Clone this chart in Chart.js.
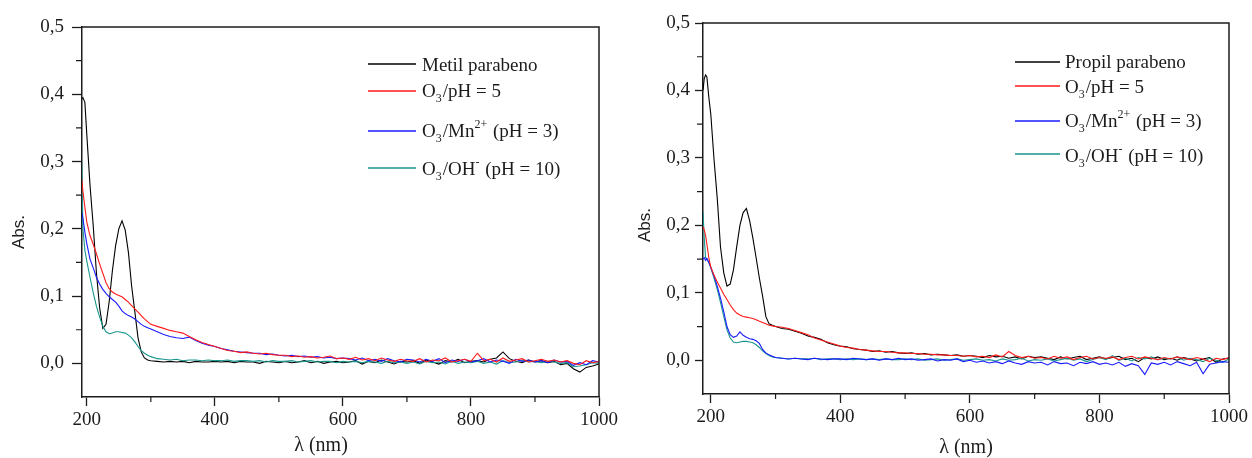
<!DOCTYPE html>
<html>
<head>
<meta charset="utf-8">
<script src="https://cdn.jsdelivr.net/npm/chart.js@4.4.1/dist/chart.umd.min.js"></script>
<style>
    body { margin: 0; background: #fff; }
    .wrap { position: relative; width: 1252px; height: 458px; }
    canvas { position: absolute; top: 0; }
    #metilChart { left: 0; }
    #propilChart { left: 626px; }
</style>
</head>
<body>
<div class="wrap">
    <canvas id="metilChart" width="626" height="458"></canvas>
    <canvas id="propilChart" width="626" height="458"></canvas>
</div>
<script>
// wavelengths (nm)
const wl = [188, 190, 192, 194, 197, 200, 205, 210, 215, 220, 225, 230, 235, 240, 245, 250, 255, 260, 265, 270, 275, 280, 285, 290, 295, 300,
    310, 320, 330, 340, 350, 360, 370, 380, 390, 400,
    410, 420, 430, 440, 450, 460, 470, 480, 490, 500,
    510, 520, 530, 540, 550, 560, 570, 580, 590, 600,
    610, 620, 630, 640, 650, 660, 670, 680, 690, 700,
    710, 720, 730, 740, 750, 760, 770, 780, 790, 800,
    810, 820, 830, 840, 850, 860, 870, 880, 890, 900,
    910, 920, 930, 940, 950, 960, 970, 980, 990, 1000];

const xMajor = [200, 400, 600, 800, 1000];
const xMinor = [300, 500, 700, 900];
const yMajor = [0, 0.1, 0.2, 0.3, 0.4, 0.5];
const yMinor = [0.05, 0.15, 0.25, 0.35, 0.45];

const seriesLabels = ['parabeno', 'O3/pH = 5', 'O3/Mn2+ (pH = 3)', 'O3/OH- (pH = 10)'];
const seriesColors = ['#000000', '#ff1a1a', '#1a1aff', '#16968c'];

// Metil parabeno panel
const metilBase = [0.385, 0.390, 0.393, 0.395, 0.388, 0.340, 0.265, 0.205, 0.135, 0.083, 0.052, 0.058, 0.092, 0.138, 0.175, 0.200, 0.212, 0.198, 0.165, 0.115, 0.077, 0.038, 0.017, 0.008, 0.005, 0.004,
    0.003, 0.002, 0.003, 0.002, 0.003, 0.001, 0.003, 0.002, 0.002, 0.003,
    0.002, 0.003, 0.001, 0.003, 0.002, 0.002, 0.000, 0.003, 0.002, 0.001,
    0.003, 0.001, 0.002, 0.004, 0.001, 0.003, 0.000, 0.002, 0.003, 0.001,
    0.002, 0.004, -0.001, 0.003, 0.001, 0.005, 0.002, -0.001, 0.003, 0.002,
    0.004, 0.000, 0.005, 0.002, -0.001, 0.004, 0.002, 0.006, 0.001, 0.003,
    0.004, 0.002, 0.006, 0.008, 0.017, 0.007, 0.003, 0.001, 0.005, 0.002,
    0.004, 0.001, 0.003, -0.002, 0.000, -0.008, -0.013, -0.006, -0.004, -0.001];
const metilO3 = [0.290, 0.285, 0.275, 0.255, 0.232, 0.210, 0.190, 0.177, 0.163, 0.148, 0.134, 0.120, 0.111, 0.106, 0.103, 0.101, 0.099, 0.095, 0.091, 0.086, 0.081, 0.076, 0.071, 0.066, 0.062, 0.058,
    0.055, 0.052, 0.049, 0.047, 0.045, 0.040, 0.035, 0.031, 0.028, 0.025,
    0.022, 0.019, 0.018, 0.016, 0.017, 0.015, 0.014, 0.015, 0.013, 0.012,
    0.012, 0.010, 0.011, 0.009, 0.010, 0.008, 0.009, 0.011, 0.007, 0.008,
    0.006, 0.009, 0.005, 0.007, 0.004, 0.008, 0.005, 0.003, 0.006, 0.004,
    0.003, 0.007, 0.002, 0.005, 0.004, 0.008, 0.002, 0.004, 0.006, 0.003,
    0.015, 0.004, 0.006, 0.002, 0.008, 0.003, 0.005, 0.007, 0.002, 0.004,
    0.006, 0.003, 0.005, 0.002, 0.004, 0.000, -0.002, 0.004, 0.001, 0.003];
const metilMn = [0.235, 0.230, 0.225, 0.215, 0.195, 0.178, 0.155, 0.142, 0.128, 0.118, 0.110, 0.104, 0.099, 0.095, 0.091, 0.085, 0.078, 0.074, 0.071, 0.069, 0.066, 0.062, 0.058, 0.055, 0.053, 0.051,
    0.047, 0.043, 0.040, 0.038, 0.037, 0.039, 0.034, 0.030, 0.027, 0.025,
    0.022, 0.020, 0.018, 0.017, 0.016, 0.015, 0.015, 0.013, 0.014, 0.012,
    0.011, 0.012, 0.010, 0.011, 0.009, 0.010, 0.008, 0.009, 0.007, 0.008,
    0.007, 0.005, 0.008, 0.004, 0.006, 0.003, 0.007, 0.004, 0.002, 0.006,
    0.005, 0.002, 0.006, 0.003, 0.007, 0.001, 0.005, 0.003, 0.006, 0.002,
    0.004, 0.007, 0.002, 0.005, 0.003, 0.000, 0.006, 0.003, 0.005, 0.002,
    0.004, 0.001, 0.005, 0.002, 0.003, -0.003, 0.001, -0.002, 0.004, 0.002];
const metilOH = [0.330, 0.320, 0.300, 0.200, 0.168, 0.152, 0.128, 0.105, 0.085, 0.069, 0.055, 0.047, 0.044, 0.045, 0.047, 0.047, 0.046, 0.045, 0.042, 0.038, 0.032, 0.025, 0.019, 0.015, 0.012, 0.010,
    0.007, 0.006, 0.005, 0.006, 0.004, 0.005, 0.005, 0.004, 0.005, 0.004,
    0.004, 0.005, 0.003, 0.004, 0.004, 0.003, 0.004, 0.002, 0.004, 0.003,
    0.003, 0.004, 0.002, 0.003, 0.004, 0.002, 0.003, 0.003, 0.001, 0.003,
    0.002, 0.003, 0.001, 0.003, 0.002, 0.000, 0.003, 0.001, 0.002, 0.000,
    0.002, -0.001, 0.003, 0.001, 0.002, -0.001, 0.003, 0.000, 0.002, 0.001,
    0.003, 0.000, 0.002, -0.001, 0.004, 0.001, 0.002, 0.005, 0.002, 0.003,
    0.001, 0.003, 0.002, 0.000, 0.001, -0.005, -0.004, -0.002, 0.001, 0.000];

// Propil parabeno panel
const propilBase = [0.400, 0.418, 0.423, 0.420, 0.390, 0.365, 0.298, 0.240, 0.168, 0.130, 0.110, 0.113, 0.134, 0.168, 0.200, 0.219, 0.225, 0.207, 0.181, 0.152, 0.122, 0.095, 0.065, 0.054, 0.052, 0.050,
    0.047, 0.046, 0.043, 0.040, 0.036, 0.034, 0.031, 0.026, 0.023, 0.021,
    0.020, 0.017, 0.016, 0.015, 0.013, 0.014, 0.012, 0.013, 0.011, 0.010,
    0.011, 0.009, 0.010, 0.008, 0.009, 0.008, 0.007, 0.008, 0.006, 0.007,
    0.006, 0.004, 0.007, 0.005, 0.006, 0.003, 0.005, 0.002, 0.006, 0.004,
    0.005, 0.003, 0.001, 0.005, 0.002, 0.004, 0.006, 0.001, 0.003, 0.005,
    0.002, 0.004, 0.006, 0.001, 0.003, -0.002, 0.004, 0.002, 0.005, 0.001,
    0.003, 0.000, 0.004, 0.002, -0.001, 0.002, 0.004, -0.003, 0.002, 0.003];
const propilO3 = [0.198, 0.193, 0.185, 0.172, 0.152, 0.138, 0.126, 0.116, 0.107, 0.098, 0.090, 0.082, 0.075, 0.070, 0.067, 0.065, 0.064, 0.063, 0.062, 0.060, 0.058, 0.056, 0.054, 0.052, 0.051, 0.050,
    0.049, 0.047, 0.044, 0.041, 0.038, 0.033, 0.030, 0.027, 0.024, 0.021,
    0.019, 0.018, 0.016, 0.015, 0.014, 0.013, 0.013, 0.012, 0.011, 0.011,
    0.010, 0.010, 0.009, 0.009, 0.008, 0.008, 0.007, 0.007, 0.006, 0.007,
    0.005, 0.006, 0.004, 0.008, 0.005, 0.013, 0.007, 0.004, 0.006, 0.003,
    0.004, 0.002, 0.006, 0.003, 0.005, 0.001, 0.004, 0.006, 0.002, 0.004,
    0.003, 0.005, 0.001, 0.004, 0.006, 0.002, 0.005, 0.003, 0.001, 0.004,
    0.002, 0.005, 0.003, 0.001, 0.004, 0.002, -0.002, 0.003, 0.001, 0.004];
const propilMn = [0.150, 0.152, 0.148, 0.151, 0.145, 0.138, 0.125, 0.110, 0.092, 0.072, 0.050, 0.038, 0.034, 0.036, 0.042, 0.037, 0.034, 0.032, 0.031, 0.029, 0.025, 0.016, 0.011, 0.008, 0.006, 0.004,
    0.003, 0.002, 0.003, 0.002, 0.001, 0.003, 0.002, 0.001, 0.002, 0.002,
    0.001, 0.003, 0.002, 0.001, 0.002, 0.000, 0.002, 0.001, 0.003, 0.001,
    0.002, 0.000, 0.001, 0.002, -0.001, 0.001, 0.000, 0.002, -0.002, 0.000,
    -0.003, -0.001, -0.004, -0.002, -0.005, -0.001, -0.004, -0.006, -0.002, -0.004,
    -0.003, -0.007, -0.002, -0.005, -0.004, -0.008, -0.003, -0.005, -0.002, -0.006,
    -0.004, -0.007, -0.003, -0.009, -0.005, -0.008, -0.021, -0.004, -0.006, -0.003,
    -0.007, -0.002, -0.005, -0.008, -0.003, -0.020, -0.006, -0.004, -0.002, -0.003];
const propilOH = [0.220, 0.180, 0.152, 0.150, 0.145, 0.137, 0.122, 0.105, 0.086, 0.065, 0.045, 0.033, 0.027, 0.026, 0.027, 0.028, 0.028, 0.027, 0.026, 0.023, 0.019, 0.014, 0.010, 0.007, 0.005, 0.004,
    0.003, 0.002, 0.003, 0.002, 0.002, 0.003, 0.001, 0.002, 0.002, 0.001,
    0.002, 0.001, 0.002, 0.001, 0.002, 0.001, 0.002, 0.001, 0.001, 0.002,
    0.001, 0.002, 0.000, 0.001, 0.002, 0.000, 0.001, 0.002, 0.000, 0.001,
    0.002, 0.000, 0.001, -0.001, 0.002, 0.000, 0.001, 0.003, -0.001, 0.001,
    0.000, 0.002, -0.001, 0.001, 0.003, 0.000, 0.002, -0.002, 0.001, 0.004,
    0.001, 0.007, 0.000, 0.003, -0.001, 0.004, 0.002, 0.005, 0.001, 0.003,
    0.002, 0.005, 0.000, 0.003, 0.001, -0.002, 0.003, 0.000, -0.003, 0.002];

const ink = '#1c1c1c';
const serif = '"Liberation Serif", "Times New Roman", serif';

// legend rows: [text, 'sub' | 'sup' | undefined]
function legendRows(first) {
    return [
        [[first]],
        [['O'], ['3', 'sub'], ['/pH = 5']],
        [['O'], ['3', 'sub'], ['/Mn'], ['2+', 'sup'], [' (pH = 3)']],
        [['O'], ['3', 'sub'], ['/OH'], ['-', 'sup'], [' (pH = 10)']]
    ];
}

const decorPlugin = {
    id: 'decor',
    afterDraw(chart, args, opts) {
        const ctx = chart.ctx;
        const area = chart.chartArea;
        const xs = chart.scales.x;
        const ys = chart.scales.y;
        ctx.save();

        // top and right frame
        ctx.strokeStyle = ink;
        ctx.lineWidth = 1.5;
        ctx.beginPath();
        ctx.moveTo(area.left, area.top);
        ctx.lineTo(area.right, area.top);
        ctx.lineTo(area.right, area.bottom);
        ctx.stroke();

        // minor ticks
        ctx.lineWidth = 1.2;
        ctx.beginPath();
        xMinor.forEach(v => {
            const px = xs.getPixelForValue(v);
            ctx.moveTo(px, area.bottom);
            ctx.lineTo(px, area.bottom + 5);
        });
        yMinor.forEach(v => {
            const py = ys.getPixelForValue(v);
            ctx.moveTo(area.left, py);
            ctx.lineTo(area.left - 6, py);
        });
        ctx.stroke();

        // axis titles
        ctx.fillStyle = ink;
        ctx.textAlign = 'center';
        ctx.textBaseline = 'middle';
        ctx.font = '17px "Liberation Sans", Arial, sans-serif';
        ctx.save();
        ctx.translate(opts.yTitle[0], opts.yTitle[1]);
        ctx.rotate(-Math.PI / 2);
        ctx.fillText('Abs.', 0, 0);
        ctx.restore();
        ctx.font = `20px ${serif}`;
        ctx.fillText('λ (nm)', opts.xTitle[0], opts.xTitle[1]);

        // legend
        ctx.textAlign = 'left';
        ctx.textBaseline = 'alphabetic';
        legendRows(opts.name).forEach((row, i) => {
            ctx.strokeStyle = seriesColors[i];
            ctx.lineWidth = 1.3;
            ctx.beginPath();
            ctx.moveTo(opts.lineX[0], opts.lineY[i]);
            ctx.lineTo(opts.lineX[1], opts.lineY[i]);
            ctx.stroke();

            let x = opts.textX;
            row.forEach(([t, kind]) => {
                ctx.font = kind ? `12px ${serif}` : `19px ${serif}`;
                const dy = kind === 'sub' ? 5 : kind === 'sup' ? -9 : 0;
                ctx.fillText(t, x, opts.baseY[i] + dy);
                x += ctx.measureText(t).width + (kind ? 1 : 0);
            });
        });
        ctx.restore();
    }
};

function makeChart(canvasId, series, cfg) {
    const datasets = series.map((vals, i) => ({
        label: i === 0 ? cfg.name : seriesLabels[i],
        data: wl.map((w, j) => ({ x: w, y: vals[j] })),
        borderColor: seriesColors[i],
        borderWidth: 1.1,
        pointRadius: 0,
        tension: 0
    }));
    // draw the base compound last so it sits on top like the original
    datasets.push(datasets.shift());

    return new Chart(document.getElementById(canvasId), {
        type: 'line',
        data: { datasets },
        options: {
            responsive: false,
            animation: false,
            layout: { padding: { top: cfg.top, right: cfg.right, left: 0, bottom: 0 } },
            plugins: {
                legend: { display: false },
                tooltip: { enabled: false },
                decor: cfg.decor
            },
            scales: {
                x: {
                    type: 'linear',
                    min: cfg.xMin,
                    max: 1000,
                    afterBuildTicks: s => { s.ticks = xMajor.map(v => ({ value: v })); },
                    afterFit: s => {
                        s.height = cfg.xHeight;
                        s.paddingLeft = 0; s.paddingRight = 0;
                    },
                    grid: { drawOnChartArea: false, tickLength: 9, tickColor: ink, tickWidth: 1.3 },
                    border: { color: ink, width: 1.5 },
                    ticks: {
                        color: ink,
                        padding: 3,
                        maxRotation: 0,
                        font: { family: serif, size: 19 },
                        callback: v => String(v)
                    }
                },
                y: {
                    min: -0.05,
                    max: 0.5,
                    afterBuildTicks: s => { s.ticks = yMajor.map(v => ({ value: v })); },
                    afterFit: s => {
                        s.width = cfg.yWidth;
                        s.paddingTop = 0; s.paddingBottom = 0;
                    },
                    grid: { drawOnChartArea: false, tickLength: cfg.yTick, tickColor: ink, tickWidth: 1.3 },
                    border: { color: ink, width: 1.5 },
                    ticks: {
                        color: ink,
                        padding: cfg.yPad,
                        font: { family: serif, size: 19 },
                        callback: v => v.toFixed(1).replace('.', ',')
                    }
                }
            }
        },
        plugins: [decorPlugin]
    });
}

makeChart('metilChart', [metilBase, metilO3, metilMn, metilOH], {
    name: 'Metil parabeno',
    xMin: 192.5, top: 27, right: 27, xHeight: 61, yWidth: 82, yTick: 10, yPad: 8,
    decor: {
        name: 'Metil parabeno',
        yTitle: [19, 232], xTitle: [321, 446],
        lineX: [368, 416], textX: 422,
        lineY: [64, 91, 131, 168], baseY: [71, 97, 137, 175]
    }
});

makeChart('propilChart', [propilBase, propilO3, propilMn, propilOH], {
    name: 'Propil parabeno',
    xMin: 188, top: 23, right: 23, xHeight: 64, yWidth: 77, yTick: 8, yPad: 5,
    decor: {
        name: 'Propil parabeno',
        yTitle: [19, 225], xTitle: [340, 448],
        lineX: [389, 434], textX: 439,
        lineY: [62, 86, 121, 154], baseY: [68, 93, 127, 162]
    }
});
</script>
</body>
</html>
